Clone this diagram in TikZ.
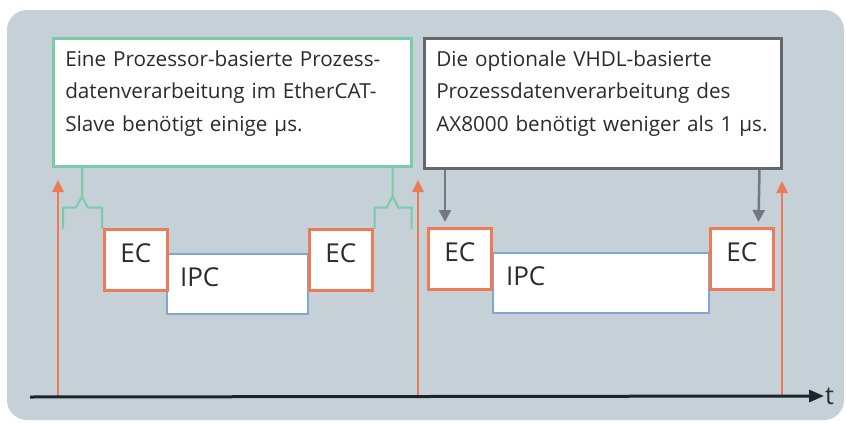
\documentclass[tikz,border=0pt]{standalone}
\usepackage{fontspec}
\setmainfont{Open Sans}
\usetikzlibrary{arrows.meta,calc}
\definecolor{panelgray}{RGB}{198,208,215}
\definecolor{ecorange}{RGB}{238,122,86}
\definecolor{notegreen}{RGB}{122,204,166}
\definecolor{ipcblue}{RGB}{128,166,216}
\definecolor{notegray}{RGB}{100,104,110}
\definecolor{arrowgray}{RGB}{116,120,126}
\definecolor{axisdark}{RGB}{30,34,44}
\definecolor{textgray}{RGB}{44,44,44}
\tikzset{
    ecbox/.style={draw=ecorange, fill=white, line width=2.5pt, anchor=north west, inner sep=0pt,
        minimum width=63pt, minimum height=61pt, text height=18pt, text depth=13pt,
        text=textgray, font=\fontsize{26}{30}\selectfont},
    ipcbox/.style={draw=ipcblue, fill=white, line width=2pt, anchor=north west, inner xsep=13pt,
        minimum height=60pt, text height=18pt, text depth=12.5pt, align=left,
        text=textgray, font=\fontsize{26}{30}\selectfont},
    notebox/.style={fill=white, line width=2.5pt, anchor=north west, inner xsep=12pt,
        align=left, text height=15pt, text=textgray, font=\fontsize{20.7}{32.5}\selectfont},
    brace/.style={draw=notegreen, line width=2pt},
    tick/.style={ecorange, line width=2.5pt, -{Triangle[length=12pt,width=11pt]}},
    pointer/.style={arrowgray, line width=2.5pt, -{Triangle[length=12pt,width=12pt]}}
}
\begin{document}
\begin{tikzpicture}[x=1pt,y=-1pt]
    \useasboundingbox (0,0) rectangle (846,423);
    \fill[panelgray, rounded corners=20pt] (7,10) rectangle (844,420);

    \node[notebox, draw=notegreen, minimum height=128pt, text width=334pt, text depth=87pt] (gbox) at (52,37)
        {Eine Prozessor-basierte Prozess-\\datenverarbeitung im EtherCAT-\\Slave benötigt einige µs.};
    \node[notebox, draw=notegray, minimum height=130pt, text width=333pt, text depth=89pt] (gbox2) at (423,37)
        {Die optionale VHDL-basierte\\Prozessdatenverarbeitung des\\AX8000 benötigt weniger als 1 µs.};

    \node[ipcbox, text width=115pt] (ipc1) at (166,253) {IPC};
    \node[ecbox] (ec1) at (103,228) {EC};
    \node[ecbox] (ec2) at (308,228) {EC};

    \node[ipcbox, text width=190pt] (ipc2) at (492,252) {IPC};
    \node[ecbox] (ec3) at (427,227) {EC};
    \node[ecbox] (ec4) at (709,227) {EC};

    \coordinate (br1) at ($(gbox.south west)+(30,0)$);
    \draw[brace] (br1) -- ++(0,29) coordinate (br1m) -- ++(-6,11) -- ++(-13,0) -- ++(0,21);
    \draw[brace] (br1m) -- ++(6,11) -- ++(14,0) -- ++(0,21);
    \coordinate (br2) at ($(gbox.south east)+(-20,0)$);
    \draw[brace] (br2) -- ++(0,29) coordinate (br2m) -- ++(-6,11) -- ++(-12,0) -- ++(0,21);
    \draw[brace] (br2m) -- ++(6,11) -- ++(13,0) -- ++(0,21);

    \draw[pointer] ($(gbox2.south west)+(22,0)$) -- ($(ec3.north west)+(18,-5)$);
    \draw[pointer] ($(gbox2.south east)+(-23,0)$) -- ($(ec4.north east)+(-16,-5)$);

    \coordinate (tk1) at (58,397);
    \coordinate (tk1top) at (58,180);
    \coordinate (tk2) at (418,397);
    \coordinate (tk2top) at (418,180);
    \coordinate (tk3) at (782,397);
    \coordinate (tk3top) at (782,181);
    \draw[tick] (tk1) -- (tk1top);
    \draw[tick] (tk2) -- (tk2top);
    \draw[tick] (tk3) -- (tk3top);

    \coordinate (ax0) at (30,397);
    \node[text=textgray, font=\fontsize{25}{30}\selectfont, inner sep=1pt, anchor=west] (tlab) at (824,396) {t};
    \draw[axisdark, line width=3pt, -{Triangle[length=15pt,width=12pt]}] (ax0) -- (tlab.west);
\end{tikzpicture}
\end{document}
